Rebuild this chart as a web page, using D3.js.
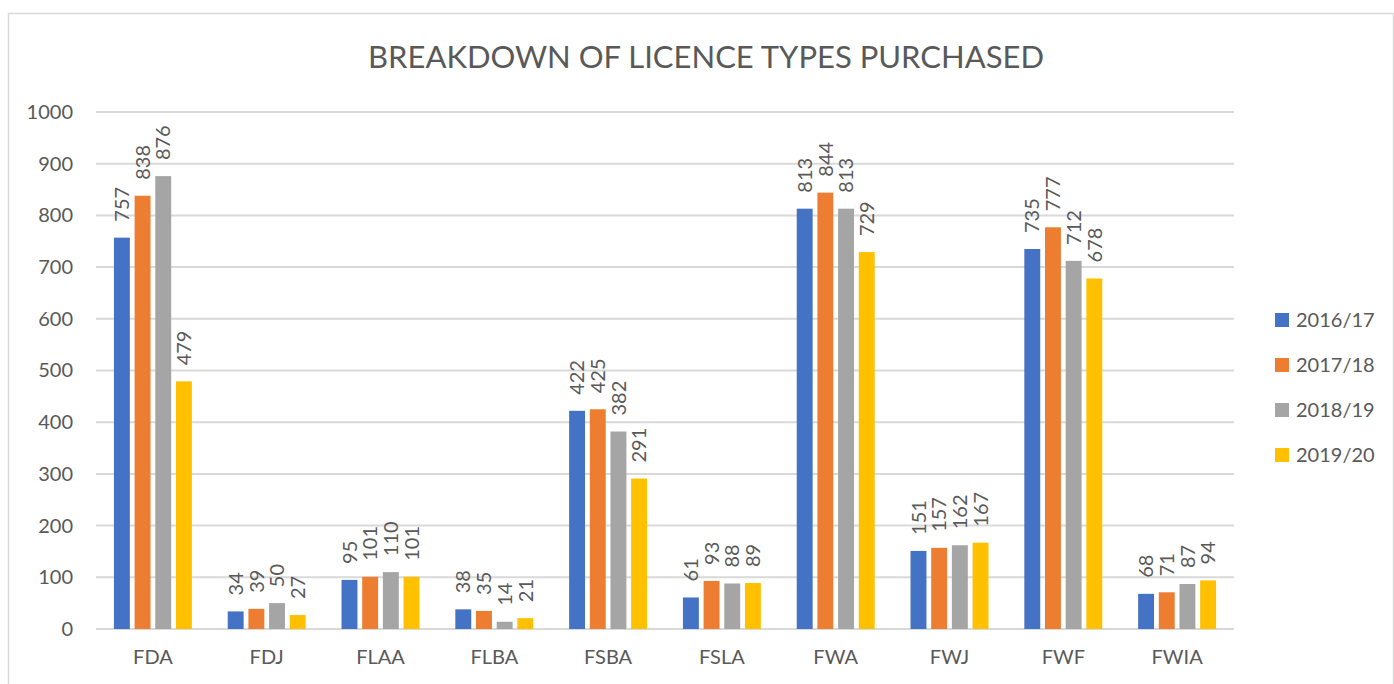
<!DOCTYPE html>
<html>
<head>
<meta charset="utf-8">
<script src="https://cdn.jsdelivr.net/npm/d3@7"></script>
<style>
  body { margin: 0; background: #fff; }
  text { font-family: Lato, "Open Sans", sans-serif; fill: #595959; }
</style>
</head>
<body>
<svg id="chart"></svg>
<script>
var categories = ["FDA", "FDJ", "FLAA", "FLBA", "FSBA", "FSLA", "FWA", "FWJ", "FWF", "FWIA"];
var seriesNames = ["2016/17", "2017/18", "2018/19", "2019/20"];
var s2016 = [757, 34, 95, 38, 422, 61, 813, 151, 735, 68];
var s2017 = [838, 39, 101, 35, 425, 93, 844, 157, 777, 71];
var s2018 = [876, 50, 110, 14, 382, 88, 813, 162, 712, 87];
var s2019 = [479, 27, 101, 21, 291, 89, 729, 167, 678, 94];
var yTicks = [0, 100, 200, 300, 400, 500, 600, 700, 800, 900, 1000];
var colors = ["#4472C4", "#ED7D31", "#A5A5A5", "#FFC000"];

var allSeries = [s2016, s2017, s2018, s2019];

var width = 1394;
var height = 684;

var svg = d3.select("#chart")
    .attr("width", width)
    .attr("height", height);

// outer chart border
svg.append("rect")
    .attr("x", 8.5)
    .attr("y", 13.5)
    .attr("width", 1385)
    .attr("height", 700)
    .attr("fill", "none")
    .attr("stroke", "#d9d9d9")
    .attr("stroke-width", 1.5);

svg.append("text")
    .attr("x", 706)
    .attr("y", 68)
    .attr("text-anchor", "middle")
    .attr("font-size", 31)
    .text("BREAKDOWN OF LICENCE TYPES PURCHASED");

var plotLeft = 96, plotRight = 1234;

var yScale = d3.scaleLinear()
    .domain([0, 1000])
    .range([629, 112]);

var x0 = d3.scaleBand()
    .domain(categories)
    .range([plotLeft, plotRight])
    .paddingInner(0.315)
    .paddingOuter(0.1575);

var x1 = d3.scaleBand()
    .domain(d3.range(seriesNames.length))
    .range([0, x0.bandwidth()])
    .paddingInner(0.23);

// gridlines
svg.append("g")
    .selectAll("line")
    .data(yTicks)
    .enter()
    .append("line")
    .attr("x1", plotLeft)
    .attr("x2", plotRight)
    .attr("y1", function (d) { return yScale(d); })
    .attr("y2", function (d) { return yScale(d); })
    .attr("stroke", "#d9d9d9")
    .attr("stroke-width", 2);

// y axis labels
var yAxis = d3.axisLeft(yScale).tickValues(yTicks).tickFormat(d3.format("d")).tickSize(0).tickPadding(0);
var yG = svg.append("g")
    .attr("transform", "translate(73,0)")
    .call(yAxis);
yG.select(".domain").remove();
yG.selectAll("text")
    .attr("font-size", 20)
    .attr("font-family", "Lato, sans-serif")
    .attr("fill", "#595959");

// x axis labels
var xAxis = d3.axisBottom(x0).tickSize(0).tickPadding(0);
var xG = svg.append("g")
    .attr("transform", "translate(0,650)")
    .call(xAxis);
xG.select(".domain").remove();
xG.selectAll("text")
    .attr("font-size", 20)
    .attr("font-family", "Lato, sans-serif")
    .attr("fill", "#595959");

// bars
var rows = [];
categories.forEach(function (c, i) {
    allSeries.forEach(function (s, j) {
        rows.push({ cat: c, series: j, value: s[i] });
    });
});

svg.append("g")
    .selectAll("rect")
    .data(rows)
    .enter()
    .append("rect")
    .attr("x", function (d) { return x0(d.cat) + x1(d.series); })
    .attr("y", function (d) { return yScale(d.value); })
    .attr("width", x1.bandwidth())
    .attr("height", function (d) { return yScale(0) - yScale(d.value); })
    .attr("fill", function (d) { return colors[d.series]; });

// data labels, rotated
svg.append("g")
    .selectAll("text")
    .data(rows)
    .enter()
    .append("text")
    .attr("transform", function (d) {
        var cx = x0(d.cat) + x1(d.series) + x1.bandwidth() / 2;
        var cy = yScale(d.value) - 16;
        return "translate(" + cx + "," + cy + ") rotate(-90)";
    })
    .attr("dy", "0.36em")
    .attr("font-size", 20)
    .text(function (d) { return d.value; });

// legend
var legend = svg.append("g")
    .selectAll("g")
    .data(seriesNames)
    .enter()
    .append("g")
    .attr("transform", function (d, i) { return "translate(1275," + (320 + i * 45) + ")"; });

legend.append("rect")
    .attr("x", 0)
    .attr("y", -7)
    .attr("width", 14)
    .attr("height", 14)
    .attr("fill", function (d, i) { return colors[i]; });

legend.append("text")
    .attr("x", 21)
    .attr("y", 7)
    .attr("font-size", 20)
    .text(function (d) { return d; });
</script>
</body>
</html>
